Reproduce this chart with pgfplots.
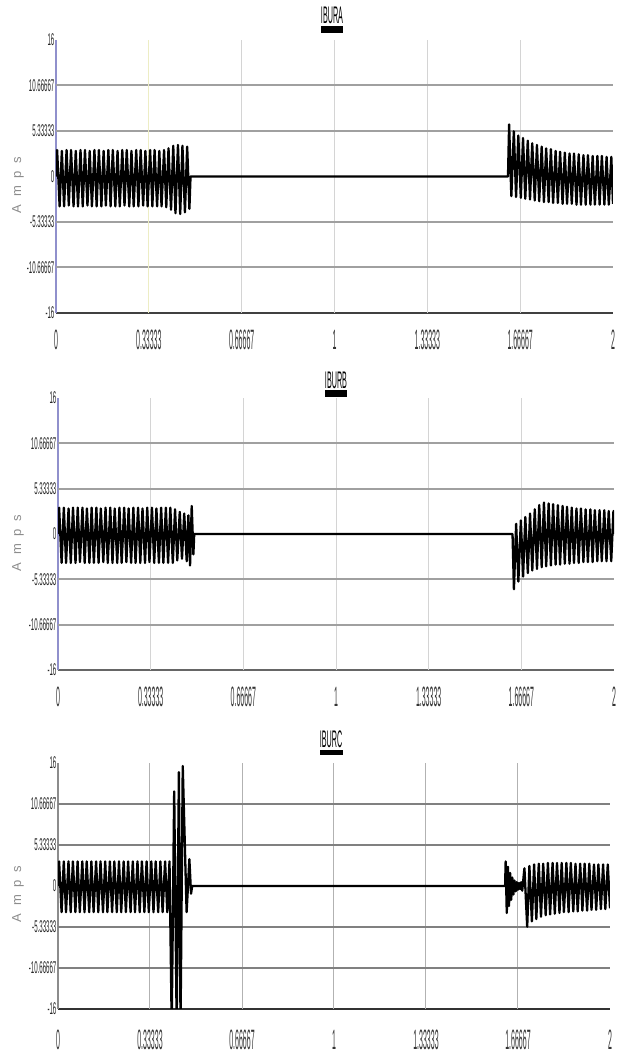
\documentclass[border=0pt]{standalone}
\usepackage{pgfplots}
\pgfplotsset{compat=1.18}
\usepackage{fontspec}
\setmainfont{Liberation Sans}
\newfontfamily\narrowY[FakeStretch=0.36]{Liberation Sans}
\newfontfamily\narrowX[FakeStretch=0.25]{Liberation Sans}
\newfontfamily\narrowfont[FakeStretch=0.3]{Liberation Sans}
\newfontfamily\ampsfont[LetterSpace=60]{Liberation Sans}
\definecolor{hgrid}{HTML}{A0A0A0}
\definecolor{vgrid}{HTML}{D4D4D4}
\definecolor{ygrid}{HTML}{EDEDC4}
\definecolor{laxis}{HTML}{9090CC}
\pgfplotsset{
  myax/.style={
    scale only axis, enlargelimits=false, clip=true,
    xmin=0, xmax=2, ymin=-16, ymax=16,
    axis x line*=bottom, axis y line*=left,
    xtick={0,0.33333,0.66667,1,1.33333,1.66667,2},
    xticklabels={0,0.33333,0.66667,1,1.33333,1.66667,2},
    ytick={-16,-10.66667,-5.33333,0,5.33333,10.66667,16},
    yticklabels={-16,-10.66667,-5.33333,0,5.33333,10.66667,16},
    major tick length=0pt,
    xticklabel style={font=\narrowX\fontsize{14}{14}\selectfont, text=black!80},
    yticklabel style={font=\narrowY\fontsize{8.5}{8.5}\selectfont, text=black!85, anchor=east, inner sep=0.6pt},
    extra y ticks={-10.66667,-5.33333,5.33333,10.66667},
    extra y tick labels={},
    extra y tick style={grid=major, major grid style={draw=hgrid, line width=1pt}},
    x axis line style={-, draw=black!75, line width=1.2pt},
    y axis line style={-, draw=laxis, line width=0.6pt},
  },
  wave/.style={black, line width=1.15pt, line join=round, no markers, sharp plot},
}
\begin{document}
\begin{tikzpicture}[x=1pt,y=1pt]
\useasboundingbox (0,0) rectangle (309,528.5);
% ---------------- IBURA ----------------
\begin{axis}[myax, at={(28pt,372pt)}, anchor=south west, width=278.5pt, height=136.5pt,
  xticklabel style={anchor=center, yshift=-13.5pt},
  extra x ticks={0.66667,1,1.33333,1.66667}, extra x tick labels={},
  extra x tick style={grid=major, major grid style={draw=vgrid, line width=0.5pt}}]
\draw[ygrid, line width=0.5pt] (axis cs:0.33333,-16) -- (axis cs:0.33333,16);
\addplot[wave] coordinates {
(0,0)(0.004,3.1)(0.013,-3.5)(0.021,3.0)(0.029,-3.5)(0.038,3.1)(0.046,-3.4)(0.054,3.1)(0.063,-3.5)(0.071,3.0)(0.079,-3.5)
(0.088,3.1)(0.096,-3.5)(0.104,3.1)(0.113,-3.4)(0.121,3.0)(0.129,-3.5)(0.138,3.1)(0.146,-3.5)(0.154,3.1)(0.163,-3.5)
(0.171,3.0)(0.179,-3.4)(0.188,3.1)(0.196,-3.5)(0.204,3.1)(0.213,-3.5)(0.221,3.0)(0.229,-3.5)(0.238,3.1)(0.246,-3.4)
(0.254,3.1)(0.263,-3.5)(0.271,3.0)(0.279,-3.5)(0.288,3.1)(0.296,-3.5)(0.304,3.1)(0.313,-3.4)(0.321,3.0)(0.329,-3.5)
(0.338,3.1)(0.346,-3.5)(0.354,3.1)(0.363,-3.5)(0.371,3.0)(0.379,-3.5)(0.388,3.1)(0.396,-3.6)(0.404,3.3)(0.413,-3.9)
(0.421,3.6)(0.429,-4.3)(0.438,3.7)(0.446,-4.4)(0.454,3.6)(0.463,-4.2)(0.471,3.5)(0.479,-3.8)(0.483,0)
(1.623,0)
(1.627,6.1)(1.635,-2.3)(1.644,5.3)(1.652,-2.4)(1.660,4.8)(1.669,-2.5)(1.677,4.5)(1.685,-2.6)(1.694,4.2)(1.702,-2.7)
(1.710,3.9)(1.719,-2.8)(1.727,3.7)(1.735,-2.9)(1.744,3.5)(1.752,-3.0)(1.760,3.3)(1.769,-3.0)(1.777,3.2)(1.785,-3.1)
(1.794,3.0)(1.802,-3.1)(1.810,2.9)(1.819,-3.2)(1.827,2.8)(1.835,-3.2)(1.844,2.7)(1.852,-3.2)(1.860,2.7)(1.869,-3.3)
(1.877,2.6)(1.885,-3.3)(1.894,2.5)(1.902,-3.3)(1.910,2.5)(1.919,-3.3)(1.927,2.4)(1.935,-3.3)(1.944,2.4)(1.952,-3.3)
(1.960,2.4)(1.969,-3.3)(1.977,2.3)(1.985,-3.3)(1.994,2.3)(2.000,-3.2)
};
\end{axis}
% ---------------- IBURB ----------------
\begin{axis}[myax, at={(29pt,193.5pt)}, anchor=south west, width=278pt, height=136pt,
  xticklabel style={anchor=center, yshift=-13.5pt},
  extra x ticks={0.33333,0.66667,1,1.33333,1.66667}, extra x tick labels={},
  extra x tick style={grid=major, major grid style={draw=vgrid, line width=0.5pt}},
  x axis line style={-, draw=black!60, line width=1.4pt}]
\addplot[wave] coordinates {
(0,0)(0.004,3.1)(0.013,-3.4)(0.021,3.1)(0.029,-3.4)(0.038,3.0)(0.046,-3.4)(0.054,3.1)(0.063,-3.4)(0.071,3.1)(0.079,-3.3)
(0.088,3.1)(0.096,-3.4)(0.104,3.0)(0.113,-3.4)(0.121,3.1)(0.129,-3.4)(0.138,3.1)(0.146,-3.4)(0.154,3.0)(0.163,-3.3)
(0.171,3.1)(0.179,-3.4)(0.188,3.1)(0.196,-3.4)(0.204,3.0)(0.213,-3.4)(0.221,3.1)(0.229,-3.4)(0.238,3.1)(0.246,-3.3)
(0.254,3.0)(0.263,-3.4)(0.271,3.1)(0.279,-3.4)(0.288,3.1)(0.296,-3.4)(0.304,3.0)(0.313,-3.4)(0.321,3.1)(0.329,-3.3)
(0.338,3.1)(0.346,-3.4)(0.354,3.0)(0.363,-3.4)(0.371,3.1)(0.379,-3.4)(0.388,3.1)(0.396,-3.4)(0.404,3.1)(0.413,-3.4)
(0.421,2.9)(0.429,-3.1)(0.438,2.6)(0.446,-2.9)(0.454,2.4)(0.463,-3.2)(0.469,2.2)(0.475,-3.7)(0.481,3.3)(0.487,-2.4)(0.490,0)
(1.635,0)
(1.640,-6.5)(1.648,1.2)(1.656,-5.6)(1.665,1.6)(1.673,-5.0)(1.681,2.0)(1.690,-4.6)(1.698,2.4)(1.706,-4.3)(1.715,2.9)
(1.723,-4.1)(1.731,3.4)(1.740,-3.9)(1.748,3.7)(1.756,-3.8)(1.765,3.6)(1.773,-3.7)(1.781,3.5)(1.790,-3.6)(1.798,3.4)
(1.806,-3.6)(1.815,3.3)(1.823,-3.5)(1.831,3.2)(1.840,-3.5)(1.848,3.1)(1.856,-3.4)(1.865,3.0)(1.873,-3.4)(1.881,3.0)
(1.890,-3.3)(1.898,2.9)(1.906,-3.3)(1.915,2.9)(1.923,-3.3)(1.931,2.8)(1.940,-3.2)(1.948,2.8)(1.956,-3.2)(1.965,2.8)
(1.973,-3.2)(1.981,2.7)(1.990,-3.2)(1.998,2.7)(2.000,0)
};
\end{axis}
% ---------------- IBURC ----------------
\begin{axis}[myax, at={(29pt,24pt)}, anchor=south west, width=276pt, height=123pt,
  xticklabel style={anchor=center, yshift=-15.5pt},
  extra x ticks={0.33333,0.66667,1,1.33333,1.66667}, extra x tick labels={},
  extra x tick style={grid=major, major grid style={draw=black!30, line width=0.5pt}},
  extra y tick style={grid=major, major grid style={draw=black!50, line width=0.9pt}},
  x axis line style={-, draw=black!80, line width=1.4pt},
  y axis line style={-, draw=black!45, line width=0.6pt}]
\addplot[wave] coordinates {
(0,0)(0.004,3.2)(0.013,-3.4)(0.021,3.2)(0.029,-3.4)(0.038,3.2)(0.046,-3.4)(0.054,3.2)(0.063,-3.4)(0.071,3.2)(0.079,-3.4)
(0.088,3.2)(0.096,-3.4)(0.104,3.2)(0.113,-3.4)(0.121,3.2)(0.129,-3.4)(0.138,3.2)(0.146,-3.4)(0.154,3.2)(0.163,-3.4)
(0.171,3.2)(0.179,-3.4)(0.188,3.2)(0.196,-3.4)(0.204,3.2)(0.213,-3.4)(0.221,3.2)(0.229,-3.4)(0.238,3.2)(0.246,-3.4)
(0.254,3.2)(0.263,-3.4)(0.271,3.2)(0.279,-3.4)(0.288,3.2)(0.296,-3.4)(0.304,3.2)(0.313,-3.4)(0.321,3.2)(0.329,-3.4)
(0.338,3.2)(0.346,-3.4)(0.354,3.2)(0.363,-3.4)(0.371,3.2)(0.379,-3.4)(0.388,3.2)(0.396,-3.4)(0.404,3.2)
(0.412,-18)(0.421,12.3)(0.430,-18)(0.438,14.8)(0.444,-18)(0.452,15.6)(0.466,-3.4)(0.476,3.5)(0.482,-1.0)(0.486,0)
(1.620,0)
(1.622,3.2)(1.626,-3.5)(1.630,2.5)(1.634,-2.6)(1.638,1.7)(1.642,-1.8)(1.646,1.1)(1.650,-1.1)(1.654,0.7)(1.658,-0.7)
(1.662,0.5)(1.666,-0.5)(1.670,0.4)(1.674,-0.4)(1.678,0.5)(1.682,-0.6)
(1.690,2.3)(1.700,-5.3)(1.708,2.6)(1.717,-4.6)(1.725,2.8)(1.733,-4.3)(1.742,2.9)(1.750,-4.0)(1.758,2.9)(1.767,-3.8)
(1.775,3.0)(1.783,-3.7)(1.792,3.0)(1.800,-3.6)(1.808,3.0)(1.817,-3.5)(1.825,3.0)(1.833,-3.4)(1.842,3.0)(1.850,-3.4)
(1.858,3.0)(1.867,-3.3)(1.875,2.9)(1.883,-3.3)(1.892,2.9)(1.900,-3.2)(1.908,2.9)(1.917,-3.2)(1.925,2.9)(1.933,-3.1)
(1.942,2.8)(1.950,-3.1)(1.958,2.8)(1.967,-3.0)(1.975,2.8)(1.983,-3.0)(1.992,2.8)(2.000,-2.9)
};
\end{axis}
% titles with legend swatches
\node[font=\narrowfont\fontsize{12}{12}\selectfont] at (166,521) {IBURA};
\fill[black] (160.5,512) rectangle (171.5,515.5);
\node[font=\narrowfont\fontsize{12}{12}\selectfont] at (168,338.5) {IBURB};
\fill[black] (162.5,330) rectangle (173.5,333.5);
\node[font=\narrowfont\fontsize{12}{12}\selectfont] at (165.5,159) {IBURC};
\fill[black] (160,151) rectangle (171.5,153.5);
% y labels
\node[rotate=90, text=black!45, font=\ampsfont\fontsize{6.5}{6.5}\selectfont] at (9,436) {Amps};
\node[rotate=90, text=black!45, font=\ampsfont\fontsize{6.5}{6.5}\selectfont] at (9,257) {Amps};
\node[rotate=90, text=black!45, font=\ampsfont\fontsize{6.5}{6.5}\selectfont] at (9,81.5) {Amps};
\end{tikzpicture}
\end{document}
